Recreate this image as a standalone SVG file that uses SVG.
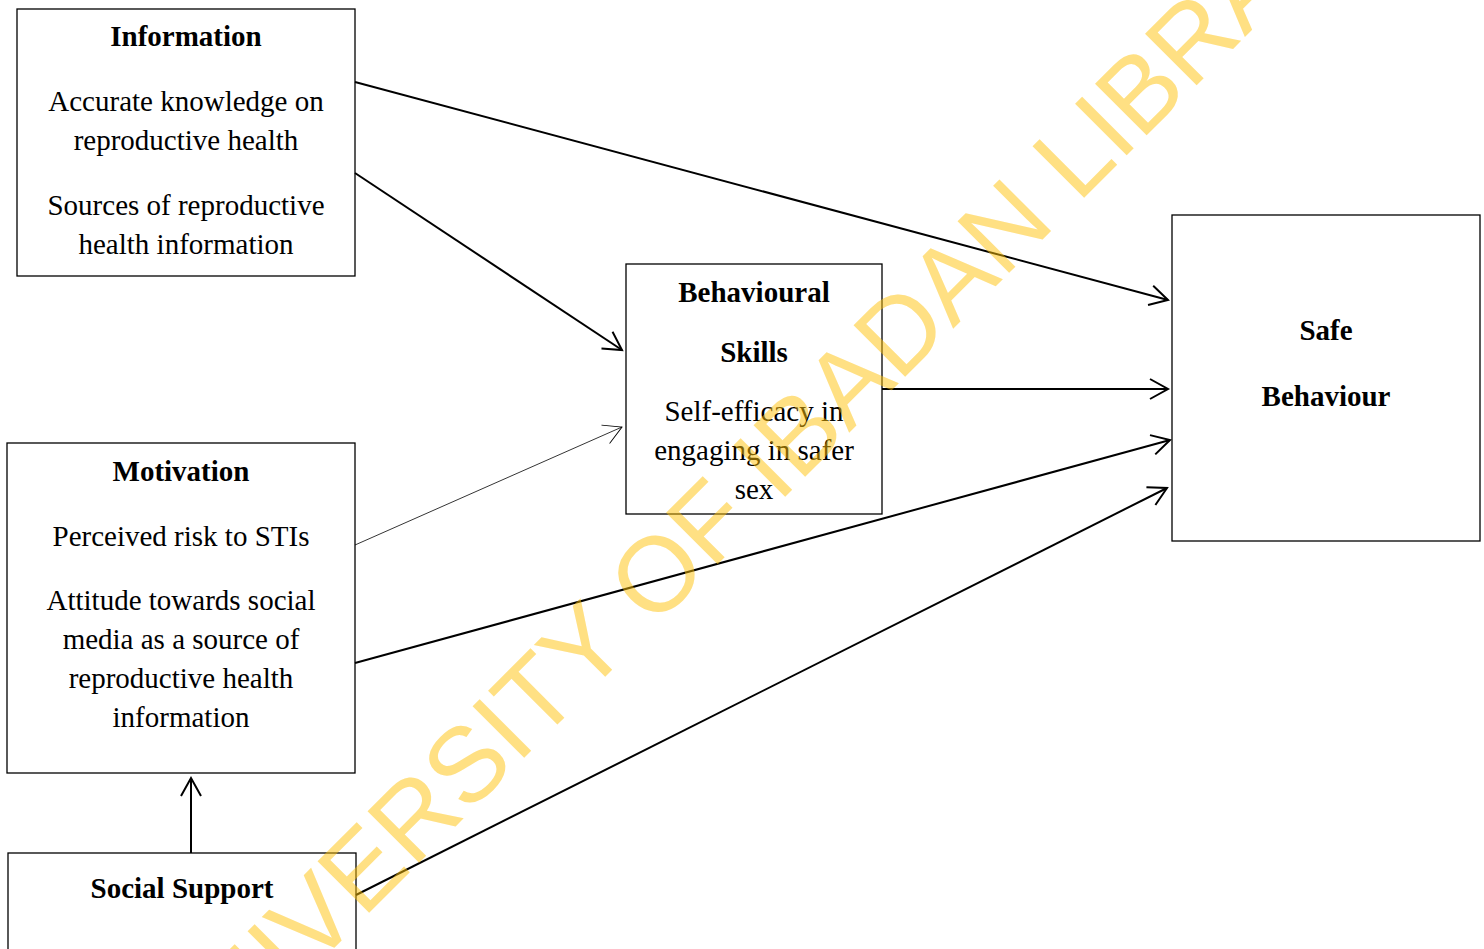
<svg xmlns="http://www.w3.org/2000/svg" width="1484" height="949" viewBox="0 0 1484 949">
<style>
  .box { fill: #ffffff; stroke: #000000; stroke-width: 1.3; }
  .t { font-family: "Liberation Serif", "Times New Roman", serif; font-size: 29px; fill: #000000; text-anchor: middle; }
  .b { font-weight: bold; }
  .c { fill: none; stroke: #000000; stroke-width: 2; }
  .thin { fill: none; stroke: #000000; stroke-width: 0.8; }
  .wm { font-family: "Liberation Sans", Arial, sans-serif; font-size: 106px; fill: #FFC107; fill-opacity: 0.5; }
</style>
<defs>
  <marker id="ah" markerUnits="userSpaceOnUse" markerWidth="40" markerHeight="40" refX="20" refY="20" orient="auto" overflow="visible">
    <path d="M2,10 L20,20 L2,30" fill="none" stroke="#000" stroke-width="2" stroke-linejoin="miter"/>
  </marker>
  <marker id="ahThin" markerUnits="userSpaceOnUse" markerWidth="40" markerHeight="40" refX="20" refY="20" orient="auto" overflow="visible">
    <path d="M2,10 L20,20 L2,30" fill="none" stroke="#000" stroke-width="0.9"/>
  </marker>
</defs>
<rect width="1484" height="949" fill="#ffffff"/>

<g id="information">
  <rect class="box" x="17" y="9" width="338" height="267"/>
  <text class="t b" x="186" y="46">Information</text>
  <text class="t" x="186" y="111">Accurate knowledge on</text>
  <text class="t" x="186" y="150">reproductive health</text>
  <text class="t" x="186" y="215">Sources of reproductive</text>
  <text class="t" x="186" y="254">health information</text>
</g>

<g id="motivation">
  <rect class="box" x="7" y="443" width="348" height="330"/>
  <text class="t b" x="181" y="481">Motivation</text>
  <text class="t" x="181" y="546">Perceived risk to STIs</text>
  <text class="t" x="181" y="610">Attitude towards social</text>
  <text class="t" x="181" y="649">media as a source of</text>
  <text class="t" x="181" y="688">reproductive health</text>
  <text class="t" x="181" y="727">information</text>
</g>

<g id="behavioural-skills">
  <rect class="box" x="626" y="264" width="256" height="250"/>
  <text class="t b" x="754" y="302">Behavioural</text>
  <text class="t b" x="754" y="362">Skills</text>
  <text class="t" x="754" y="421">Self-efficacy in</text>
  <text class="t" x="754" y="460">engaging in safer</text>
  <text class="t" x="754" y="499">sex</text>
</g>

<g id="safe-behaviour">
  <rect class="box" x="1172" y="215" width="308" height="326"/>
  <text class="t b" x="1326" y="340">Safe</text>
  <text class="t b" x="1326" y="406">Behaviour</text>
</g>

<g id="social-support">
  <rect class="box" x="8" y="853" width="348" height="120"/>
  <text class="t b" x="182" y="898">Social Support</text>
</g>

<g id="connectors">
  <line class="c" x1="355" y1="82" x2="1168" y2="300" marker-end="url(#ah)"/>
  <line class="c" x1="355" y1="173" x2="622" y2="350" marker-end="url(#ah)"/>
  <line class="thin" x1="355" y1="545" x2="622" y2="427" marker-end="url(#ahThin)"/>
  <line class="c" x1="882" y1="389" x2="1168" y2="389" marker-end="url(#ah)"/>
  <line class="c" x1="355" y1="663" x2="1170" y2="440" marker-end="url(#ah)"/>
  <line class="c" x1="356" y1="895" x2="1167" y2="488" marker-end="url(#ah)"/>
  <line class="c" x1="191" y1="853" x2="191" y2="778" marker-end="url(#ah)"/>
</g>

<text class="wm" x="184" y="1098" transform="rotate(-45 184 1098)">UNIVERSITY OF IBADAN LIBRARY</text>
</svg>
